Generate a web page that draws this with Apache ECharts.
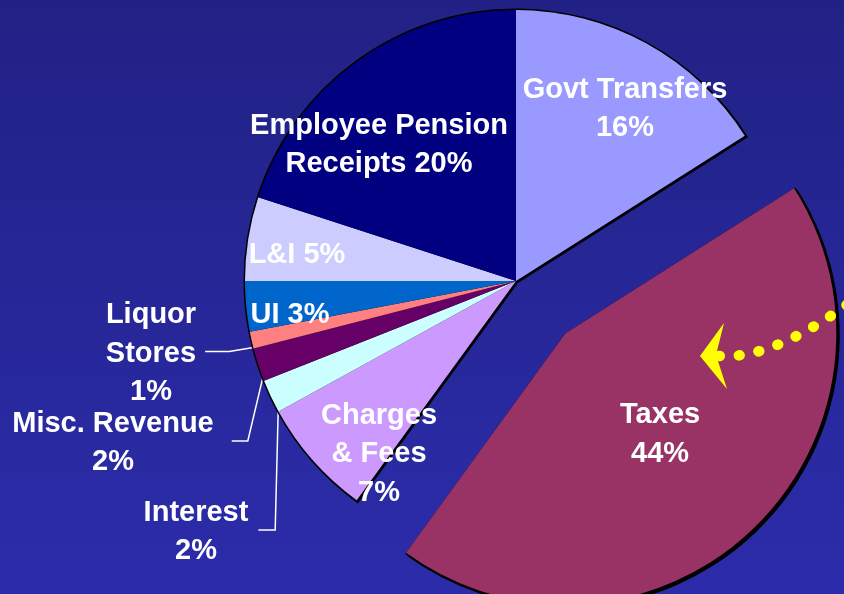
<!DOCTYPE html>
<html>
<head>
<meta charset="utf-8">
<script src="https://cdn.jsdelivr.net/npm/echarts@6/dist/echarts.min.js"></script>
<style>
html,body{margin:0;padding:0;background:#25259a;}
#chart{width:844px;height:594px;}
</style>
</head>
<body>
<div id="chart"></div>
<script>
// ---------------- DATA ----------------
const categories = ['Govt Transfers', 'Taxes', 'Charges & Fees', 'Interest', 'Misc. Revenue',
                    'Liquor Stores', 'UI', 'L&I', 'Employee Pension Receipts'];
const shares = [16, 44, 7, 2, 2, 1, 3, 5, 20];   // percent of revenue
const labelNames = ['Govt Transfers', 'Taxes', 'Charges\n& Fees', 'Interest', 'Misc. Revenue',
                    'Liquor\nStores', 'UI', 'L&I', 'Employee Pension\nReceipts'];
const percentOnNewLine = [true, true, true, true, true, true, false, false, false];
const explodedCategory = 'Taxes';
const outsideLabelCategories = ['Interest', 'Misc. Revenue', 'Liquor Stores'];

// ---------------- STYLE ----------------
const sliceColors = {
  'Govt Transfers': '#9999FF',
  'Taxes': '#993366',
  'Charges & Fees': '#CC99FF',
  'Interest': '#CCFFFF',
  'Misc. Revenue': '#660066',
  'Liquor Stores': '#FF8080',
  'UI': '#0066CC',
  'L&I': '#CCCCFF',
  'Employee Pension Receipts': '#000080'
};
const PIE = { cx: 516, cy: 281, r: 271 };
const EXPLODE = 72;
// label block centres, relative to the pie centre
const labelOffsets = {
  'Govt Transfers': [109, -172],
  'Taxes': [126, 151],
  'Charges & Fees': [-137, 173],
  'Interest': [-320, 251],
  'Misc. Revenue': [-403, 162],
  'Liquor Stores': [-365, 72.5],
  'UI': [-226, 33.5],
  'L&I': [-219, -26],
  'Employee Pension Receipts': [-137, -136]
};
// leader-line shape: where on the slice arc it starts (fraction of slice), elbow shift, gap to text
const leaderStyle = {
  'Interest': { frac: 0.02, elbowDX: -3, gap: 10 },
  'Misc. Revenue': { frac: 0.1, elbowDX: -15, gap: 18 },
  'Liquor Stores': { frac: 0.05, elbowDX: -24, gap: 9 }
};
const FONT = "'Liberation Sans', Arial, Helvetica, sans-serif";

// ---------------- BUILD ----------------
const total = shares.reduce((a, b) => a + b, 0);

const mainData = categories.map((name, i) => {
  const item = {
    name: name,
    value: shares[i],
    selected: name === explodedCategory,
    itemStyle: { color: sliceColors[name] }
  };
  if (outsideLabelCategories.indexOf(name) >= 0) {
    item.label = { position: 'outside' };
    item.labelLine = { show: true, length: 5, length2: 5,
      lineStyle: { color: '#ffffff', width: 1.5 } };
  }
  return item;
});
const backData = categories.map((name, i) => ({
  name: name, value: shares[i], selected: name === explodedCategory
}));

const chart = echarts.init(document.getElementById('chart'), null, { renderer: 'canvas' });

chart.setOption({
  animation: false,
  backgroundColor: {
    type: 'linear', x: 0, y: 0, x2: 0, y2: 1,
    colorStops: [{ offset: 0, color: '#212185' }, { offset: 1, color: '#2c2cab' }]
  },
  series: [
    {
      // black outline + drop shadow underneath the pie
      type: 'pie',
      silent: true,
      center: [PIE.cx, PIE.cy],
      radius: PIE.r + 1.5,
      startAngle: 90,
      clockwise: true,
      selectedMode: 'single',
      selectedOffset: EXPLODE,
      avoidLabelOverlap: false,
      data: backData,
      label: { show: false },
      labelLine: { show: false },
      emphasis: { disabled: true },
      itemStyle: {
        color: '#000000', borderWidth: 0,
        shadowColor: '#000000', shadowBlur: 0, shadowOffsetX: 2, shadowOffsetY: 2
      }
    },
    {
      type: 'pie',
      silent: true,
      center: [PIE.cx, PIE.cy],
      radius: PIE.r,
      startAngle: 90,
      clockwise: true,
      selectedMode: 'single',
      selectedOffset: EXPLODE,
      avoidLabelOverlap: false,
      data: mainData,
      emphasis: { disabled: true },
      itemStyle: { borderWidth: 0 },
      label: {
        show: true,
        position: 'inside',
        color: '#ffffff',
        fontFamily: FONT,
        fontWeight: 'bold',
        fontSize: 29,
        lineHeight: 38.5,
        align: 'center',
        formatter: function (p) {
          const i = p.dataIndex;
          return labelNames[i] + (percentOnNewLine[i] ? '\n' : ' ') + p.value + '%';
        }
      },
      labelLayout: function (params) {
        const i = params.dataIndex;
        const name = categories[i];
        const off = labelOffsets[name];
        const x = PIE.cx + off[0];
        const y = PIE.cy + off[1];
        const res = { x: x, y: y, align: 'center', verticalAlign: 'middle' };
        const ld = leaderStyle[name];
        if (ld) {
          let before = 0;
          for (let k = 0; k < i; k++) before += shares[k];
          const theta = (before + ld.frac * shares[i]) / total * Math.PI * 2;
          const ax = PIE.cx + PIE.r * Math.sin(theta);
          const ay = PIE.cy - PIE.r * Math.cos(theta);
          const ly = y - 2;
          const right = x + params.labelRect.width / 2;
          res.labelLinePoints = [[ax, ay], [ax + ld.elbowDX, ly], [right + ld.gap, ly]];
        }
        return res;
      }
    }
  ],
  graphic: [
    {
      type: 'bezierCurve',
      z: 100,
      silent: true,
      shape: { x1: 719, y1: 356, cpx1: 772, cpy1: 360, x2: 852, y2: 301 },
      style: { stroke: '#ffff00', fill: null, lineWidth: 10.5, lineCap: 'round', lineDash: [0.8, 19.2] }
    },
    {
      type: 'polygon',
      z: 101,
      silent: true,
      shape: { points: [[700, 356], [724, 323], [716, 355], [727, 389]] },
      style: { fill: '#ffff00' }
    }
  ]
});
</script>
</body>
</html>
